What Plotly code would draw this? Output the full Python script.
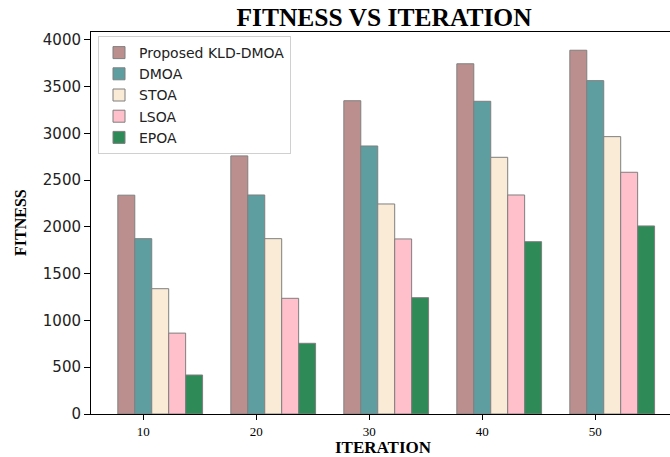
import plotly.graph_objects as go

iterations = [10, 20, 30, 40, 50]
proposed = [2340, 2760, 3350, 3745, 3890]
dmoa = [1875, 2342, 2866, 3344, 3565]
stoa = [1340, 1875, 2246, 2745, 2966]
lsoa = [865, 1237, 1872, 2342, 2585]
epoa = [417, 756, 1244, 1843, 2011]

series_names = ["Proposed KLD-DMOA", "DMOA", "STOA", "LSOA", "EPOA"]
series_values = [proposed, dmoa, stoa, lsoa, epoa]
colors = ["#BC8F8F", "#5F9EA0", "#FAEBD7", "#FFC0CB", "#2E8B57"]

W, H = 670, 457
L, T, B = 91, 32, 43
PW, PH = W - L, H - T - B

bar_w = 1.5
fig = go.Figure()
for k, (name, vals, col) in enumerate(zip(series_names, series_values, colors)):
    fig.add_trace(go.Bar(
        x=iterations, y=vals, name=name,
        width=bar_w, offset=-2.25 + bar_w * k,
        marker=dict(color=col, line=dict(color="#7f7f7f", width=1)),
    ))

fig.update_layout(
    width=W, height=H, autosize=False,
    barmode="overlay",
    plot_bgcolor="white", paper_bgcolor="white",
    margin=dict(l=L, r=0, t=T, b=B),
    title=dict(text="<b>FITNESS VS ITERATION</b>", x=384 / W, xanchor="center",
               y=1 - 17 / H, yanchor="middle",
               font=dict(family="Liberation Serif", size=25.5, color="black")),
    legend=dict(x=7 / PW, y=1 - 4 / PH, xanchor="left", yanchor="top",
                bgcolor="white", bordercolor="#d0d0d0", borderwidth=1,
                font=dict(family="DejaVu Sans", size=14, color="#222"),
                tracegroupgap=0),
    showlegend=True,
    annotations=[
        dict(text="<b>ITERATION</b>", xref="paper", yref="paper",
             x=(383 - L) / PW, y=-(447 - (H - B)) / PH, xanchor="center", yanchor="middle",
             showarrow=False, font=dict(family="Liberation Serif", size=17, color="black")),
        dict(text="<b>FITNESS</b>", xref="paper", yref="paper", textangle=-90,
             x=(20 - L) / PW, y=((H - B) - 223) / PH, xanchor="center", yanchor="middle",
             showarrow=False, font=dict(family="Liberation Serif", size=16, color="black")),
    ],
)
fig.update_xaxes(
    range=[5.375, 5.375 + PW / 11.3], tickmode="array", tickvals=iterations,
    ticktext=[str(v) for v in iterations], automargin=False,
    showline=True, linecolor="black", linewidth=1, mirror=True,
    ticks="outside", ticklen=5, tickcolor="black", showgrid=False, zeroline=False,
    tickfont=dict(family="Liberation Serif", size=13, color="black"),
)
fig.update_yaxes(
    range=[0, 4085], tickmode="array", tickvals=list(range(0, 4001, 500)),
    automargin=False,
    showline=True, linecolor="black", linewidth=1,
    ticks="outside", ticklen=6, tickcolor="black", showgrid=False, zeroline=False,
    tickfont=dict(family="DejaVu Sans", size=15, color="#222"),
)
fig.write_html("out.html", config={"displayModeBar": False},
               post_script="document.body.style.margin='0';document.body.style.overflow='hidden';")
